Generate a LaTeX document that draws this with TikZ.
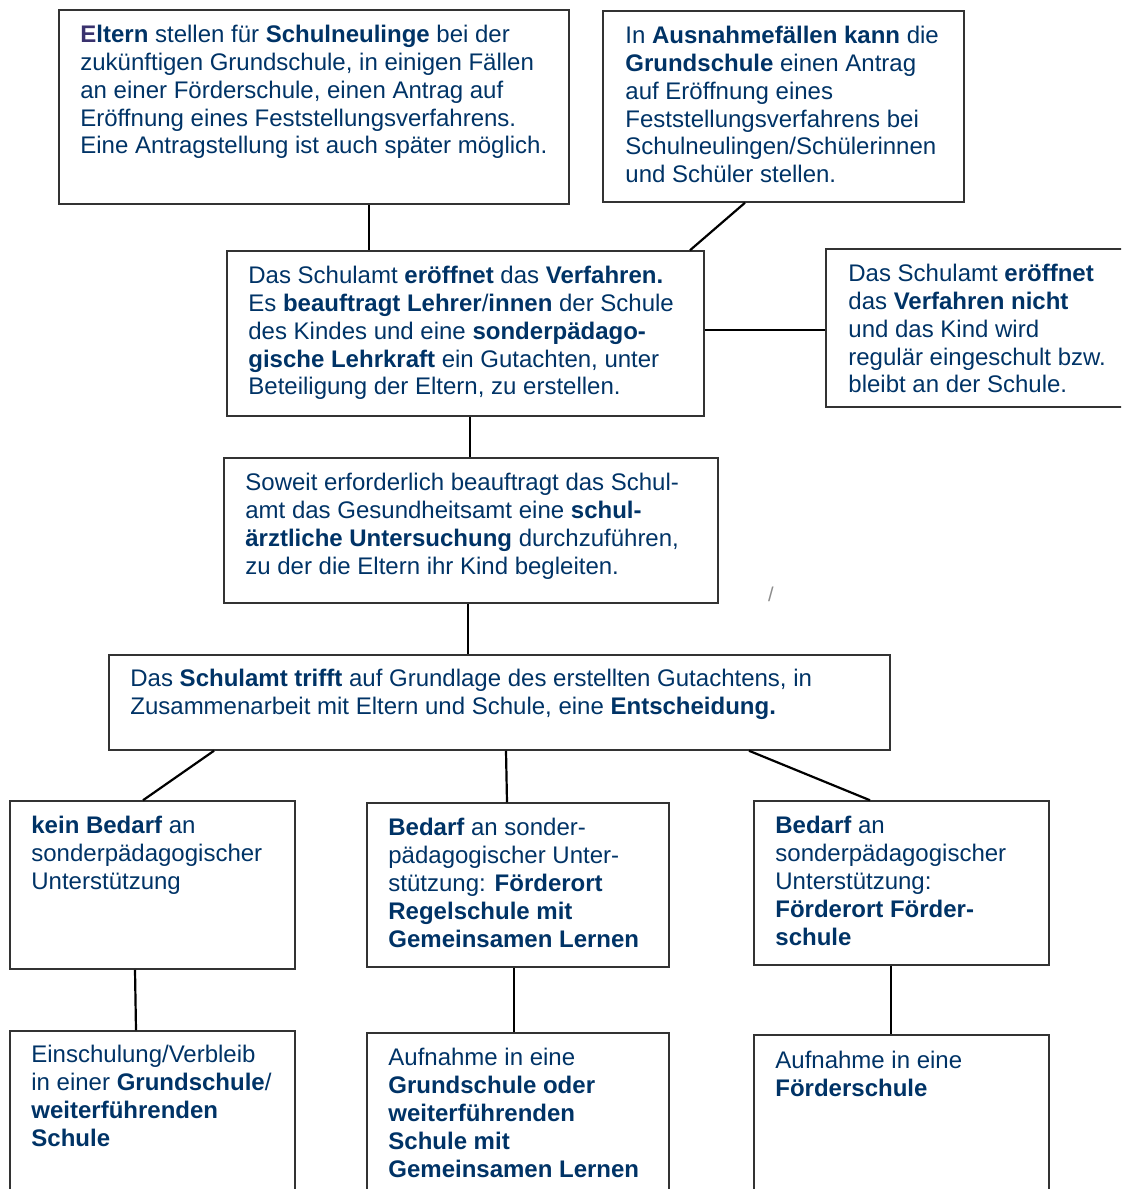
\documentclass[tikz,border=0pt]{standalone}
\usepackage{fontspec}
\setmainfont{Liberation Sans}
\usetikzlibrary{fit}
\definecolor{schrift}{RGB}{0,51,102}
\definecolor{eltE}{RGB}{58,50,110}
\tikzstyle{frame}=[draw=black!80, line width=0.75pt, inner sep=0pt]
\tikzstyle{txt}=[anchor=north west, inner sep=0pt, align=left, text=schrift, font=\fontsize{12}{13.9}\selectfont]
\tikzstyle{link}=[draw=black, line width=1.1pt]

\begin{document}
\begin{tikzpicture}[x=0.5pt, y=-0.5pt]
	\useasboundingbox (0,0) rectangle (1121,1189);
	\clip (0,0) rectangle (1121,1189);
	\begin{scope}
		% Kaesten
		\node (eltern) [frame, fit={(59,10) (569,204)}] {};
		\node (ausnahme) [frame, fit={(603,11) (964,202)}] {};
		\node (eroeffnet) [frame, fit={(227,251) (704,416)}] {};
		\node (nicht) [frame, fit={(826,249) (1140,407)}] {};
		\node (arzt) [frame, fit={(224,458) (718,603)}] {};
		\node (entscheid) [frame, fit={(109,655) (890,750)}] {};
		\node (kein) [frame, fit={(10,801) (295,969)}] {};
		\node (gl) [frame, fit={(367,803) (669,967)}] {};
		\node (fs) [frame, fit={(754,801) (1049,965)}] {};
		\node (grund) [frame, fit={(10,1031) (295,1220)}] {};
		\node (auf-gl) [frame, fit={(367,1033) (669,1220)}] {};
		\node (auf-fs) [frame, fit={(754,1035) (1049,1220)}] {};
		% Texte
		\node (elternT) at (80,25) [txt] {\textbf{\textcolor{eltE}{E}ltern} stellen für \textbf{Schulneulinge} bei der\\
			zukünftigen Grundschule, in einigen Fällen\\
			an einer Förderschule, einen Antrag auf\\
			Eröffnung eines Feststellungsverfahrens.\\
			Eine Antragstellung ist auch später möglich.};
		\node (ausnahmeT) at (625,26) [txt] {In \textbf{Ausnahmefällen kann} die\\
			\textbf{Grundschule} einen Antrag\\
			auf Eröffnung eines\\
			Feststellungsverfahrens bei\\
			Schulneulingen/Schülerinnen\\
			und Schüler stellen.};
		\node (eroeffnetT) at (248,266) [txt] {Das Schulamt \textbf{eröffnet} das \textbf{Verfahren.}\\
			Es \textbf{beauftragt Lehrer}/\textbf{innen} der Schule\\
			des Kindes und eine \textbf{sonderpädago-}\\
			\textbf{gische Lehrkraft} ein Gutachten, unter\\
			Beteiligung der Eltern, zu erstellen.};
		\node (nichtT) at (848,264) [txt] {Das Schulamt \textbf{eröffnet}\\
			das \textbf{Verfahren nicht}\\
			und das Kind wird\\
			regulär eingeschult bzw.\\
			bleibt an der Schule.};
		\node (arztT) at (245,473) [txt] {Soweit erforderlich beauftragt das Schul-\\
			amt das Gesundheitsamt eine \textbf{schul-}\\
			\textbf{ärztliche Untersuchung} durchzuführen,\\
			zu der die Eltern ihr Kind begleiten.};
		\node (entscheidT) at (130,669) [txt] {Das \textbf{Schulamt trifft} auf Grundlage des erstellten Gutachtens, in\\
			Zusammenarbeit mit Eltern und Schule, eine \textbf{Entscheidung.}};
		\node (keinT) at (31,816) [txt] {\textbf{kein Bedarf} an\\
			sonderpädagogischer\\
			Unterstützung};
		\node (glT) at (388,818) [txt] {\textbf{Bedarf} an sonder-\\
			pädagogischer Unter-\\
			stützung: \textbf{Förderort}\\
			\textbf{Regelschule mit}\\
			\textbf{Gemeinsamen Lernen}};
		\node (fsT) at (775,816) [txt] {\textbf{Bedarf} an\\
			sonderpädagogischer\\
			Unterstützung:\\
			\textbf{Förderort Förder-}\\
			\textbf{schule}};
		\node (grundT) at (31,1045) [txt] {Einschulung/Verbleib\\
			in einer \textbf{Grundschule}/\\
			\textbf{weiterführenden}\\
			\textbf{Schule}};
		\node (auf-glT) at (388,1048) [txt] {Aufnahme in eine\\
			\textbf{Grundschule oder}\\
			\textbf{weiterführenden}\\
			\textbf{Schule mit}\\
			\textbf{Gemeinsamen Lernen}};
		\node (auf-fsT) at (775,1051) [txt] {Aufnahme in eine\\
			\textbf{Förderschule}};
		\node (slash) at (771,594) [inner sep=0pt, text=black!45, font=\fontsize{10}{11}\selectfont] {/};
	\end{scope}
	\begin{scope}
		\path [link] (eltern.south -| 369,0) edge (eroeffnet.north -| 369,0);
		\path [link] (ausnahme.south -| 745,0) edge (eroeffnet.north -| 690,0);
		\path [link] (eroeffnet.east |- 0,330) edge (nicht.west |- 0,330);
		\path [link] (eroeffnet.south -| 470,0) edge (arzt.north -| 470,0);
		\path [link] (arzt.south -| 468,0) edge (entscheid.north -| 468,0);
		\path [link] (entscheid.south -| 214,0) edge (kein.north -| 143,0);
		\path [link] (entscheid.south -| 506,0) edge (gl.north -| 507,0);
		\path [link] (entscheid.south -| 749,0) edge (fs.north -| 870,0);
		\path [link] (kein.south -| 135,0) edge (grund.north -| 136,0);
		\path [link] (gl.south -| 514,0) edge (auf-gl.north -| 514,0);
		\path [link] (fs.south -| 891,0) edge (auf-fs.north -| 891,0);
	\end{scope}
\end{tikzpicture}
\end{document}
